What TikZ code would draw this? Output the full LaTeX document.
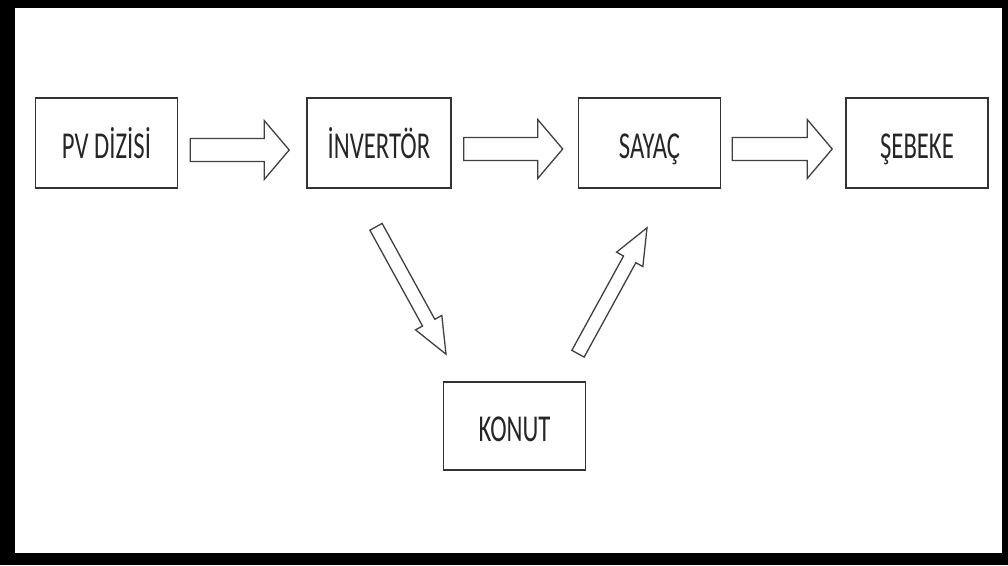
\documentclass[tikz,border=0pt]{standalone}
\usepackage{fontspec}
\usepackage{graphicx}
\setmainfont{Carlito}
\usetikzlibrary{calc}
\newcommand\blockarrow[5]{%
  \coordinate (#1-hb) at ($(#2)!#5!(#1)$);
  \draw[barrow] ($(#1)!#3!90:(#2)$) -- ($(#1-hb)!#3!90:(#2)$) -- ($(#1-hb)!#4!90:(#2)$) -- (#2)
    -- ($(#1-hb)!#4!-90:(#2)$) -- ($(#1-hb)!#3!-90:(#2)$) -- ($(#1)!#3!-90:(#2)$) -- cycle;}
\newcommand\squeeze[1]{\scalebox{0.65}[1]{#1}}
\begin{document}
\begin{tikzpicture}[x=1pt,y=-1pt,
  box/.style={draw=black!80, line width=1.6pt, minimum width=142pt, minimum height=90pt,
    inner sep=0pt, text height=30.5pt, text depth=0pt,
    font=\fontsize{38}{38}\selectfont, text=black!85},
  barrow/.style={draw=black!75, line width=1.3pt, fill=white, line join=miter}]
\fill[black] (0,0) rectangle (1008,565);
\fill[white] (15,8) rectangle (1002,553);
\useasboundingbox (0,0) rectangle (1008,565);

\node[box] (pv)  at (106.5,143) {\squeeze{PV DİZİSİ}};
\node[box, minimum width=144pt] (inv) at (379,143) {\squeeze{İNVERTÖR}};
\node[box] (say) at (649.5,143) {\squeeze{SAYAÇ}};
\node[box] (seb) at (917,143) {\squeeze{ŞEBEKE}};
\node[box, minimum height=88pt] (kon) at (514.5,426) {\squeeze{KONUT}};

\coordinate (a1t) at ($(pv.east)+(12,7)$);
\coordinate (a1h) at ($(inv.west)+(-17,7)$);
\coordinate (a2t) at ($(inv.east)+(12,6)$);
\coordinate (a2h) at ($(say.west)+(-15,6)$);
\coordinate (a3t) at ($(say.east)+(11,6)$);
\coordinate (a3h) at ($(seb.west)+(-13,6)$);
\coordinate (a4t) at ($(inv.south)+(-3,38)$);
\coordinate (a4h) at ($(kon.north)+(-68.5,-27)$);
\coordinate (a5t) at ($(kon.north)+(63.5,-27.5)$);
\coordinate (a5h) at ($(say.south)+(-2.5,39)$);

\blockarrow{a1t}{a1h}{11.5pt}{29.5pt}{25pt}
\blockarrow{a2t}{a2h}{11.5pt}{29.5pt}{25pt}
\blockarrow{a3t}{a3h}{11.5pt}{29.5pt}{25pt}
\blockarrow{a4t}{a4h}{7pt}{15pt}{36pt}
\blockarrow{a5t}{a5h}{7pt}{15pt}{36pt}
\end{tikzpicture}
\end{document}
